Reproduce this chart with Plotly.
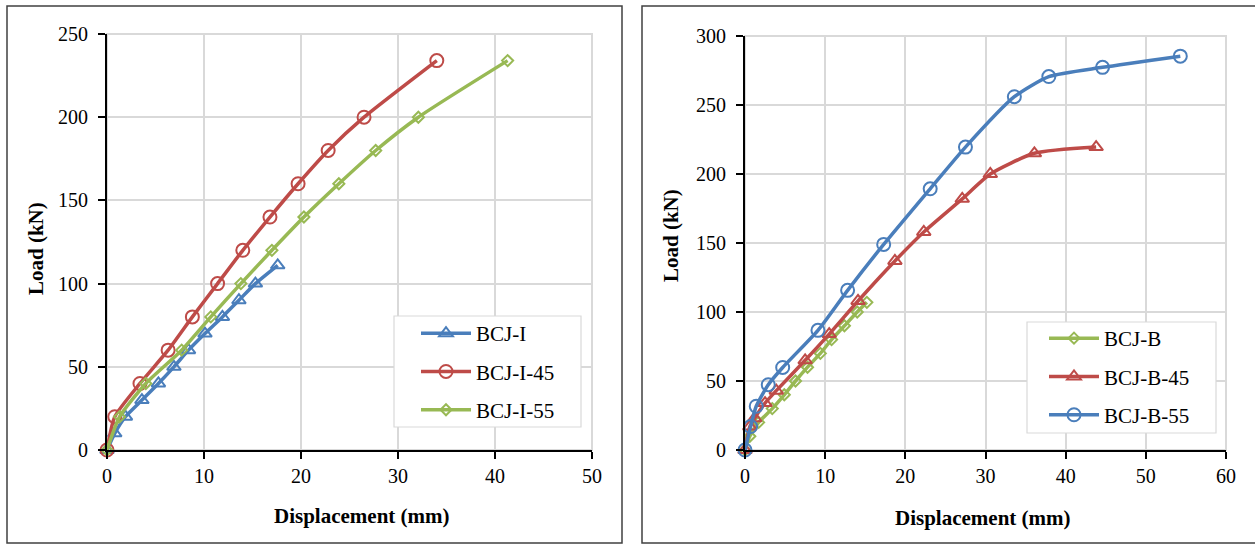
import plotly.graph_objects as go

# ---- data: load-displacement curves ----
# Panel (a): BCJ-I series
disp_bcj_i = [0, 0.8, 1.9, 3.6, 5.3, 6.9, 8.4, 10.1, 11.9, 13.6, 15.3, 17.6]
load_bcj_i = [0, 10, 20, 30, 40, 50, 60, 70, 80, 90, 100, 111]

disp_bcj_i45 = [0, 0.8, 3.4, 6.3, 8.8, 11.4, 14.0, 16.8, 19.7, 22.8, 26.5, 34.0]
load_bcj_i45 = [0, 20, 40, 60, 80, 100, 120, 140, 160, 180, 200, 234]

disp_bcj_i55 = [0, 1.3, 4.0, 7.7, 10.7, 13.8, 17.0, 20.3, 23.9, 27.7, 32.1, 41.3]
load_bcj_i55 = [0, 20, 40, 60, 80, 100, 120, 140, 160, 180, 200, 234]

# Panel (b): BCJ-B series
disp_bcj_b = [0, 0.6, 1.7, 3.4, 4.9, 6.3, 7.8, 9.4, 10.8, 12.4, 14.0, 15.2]
load_bcj_b = [0, 10, 20, 30, 40, 50, 60, 70, 80, 90, 100, 107]

disp_bcj_b45 = [0, 0.6, 1.2, 2.5, 3.9, 7.5, 10.5, 14.1, 18.7, 22.3, 27.1, 30.6, 36.1, 43.8]
load_bcj_b45 = [0, 17, 23, 34, 43, 65, 84, 108, 137, 158, 182, 200, 215, 219.5]

disp_bcj_b55 = [0, 0.7, 1.4, 2.9, 4.7, 9.1, 12.8, 17.3, 23.1, 27.5, 33.6, 37.9, 44.6, 54.3]
load_bcj_b55 = [0, 17, 31.7, 47.3, 59.8, 86.7, 115.7, 149, 189.3, 219.5, 256, 270.6, 277.3, 285.4]

x_title = "Displacement (mm)"
y_title = "Load (kN)"

# ---- styling ----
W, H = 1255, 544
FONT = "Liberation Serif, Times New Roman, serif"
BLUE, RED, GREEN = "#4a7ebb", "#be4b48", "#98b954"
GRID = "#d9d9d9"


def px(x):
    return x / W


def py(y):
    return 1 - y / H


def series(x, y, name, color, symbol, size, legend):
    return go.Scatter(
        x=x, y=y, name=name, mode="lines+markers",
        line=dict(color=color, width=3.5, shape="spline", smoothing=0.6),
        marker=dict(symbol=symbol, size=size, color=color,
                    line=dict(color=color, width=2)),
        cliponaxis=False, legend=legend, legendgroup=name,
    )


fig = go.Figure()

# left panel traces (axes x / y)
fig.add_trace(series(disp_bcj_i, load_bcj_i, "BCJ-I", BLUE, "triangle-up-open", 12, "legend"))
fig.add_trace(series(disp_bcj_i45, load_bcj_i45, "BCJ-I-45", RED, "circle-open", 13, "legend"))
fig.add_trace(series(disp_bcj_i55, load_bcj_i55, "BCJ-I-55", GREEN, "diamond-open", 8.5, "legend"))

# right panel traces (axes x2 / y2)
for tr in [
    series(disp_bcj_b, load_bcj_b, "BCJ-B", GREEN, "diamond-open", 8.5, "legend2"),
    series(disp_bcj_b45, load_bcj_b45, "BCJ-B-45", RED, "triangle-up-open", 12, "legend2"),
    series(disp_bcj_b55, load_bcj_b55, "BCJ-B-55", BLUE, "circle-open", 13, "legend2"),
]:
    tr.update(xaxis="x2", yaxis="y2")
    fig.add_trace(tr)

axis_common = dict(
    showline=True, linecolor="black", linewidth=2,
    ticks="outside", ticklen=7, tickwidth=1.5, tickcolor="black",
    showgrid=True, gridcolor=GRID, gridwidth=2, zeroline=False,
    tickfont=dict(family=FONT, size=20, color="black"),
    fixedrange=True, automargin=False,
)

legend_common = dict(
    bgcolor="rgba(0,0,0,0)", borderwidth=0,
    font=dict(family=FONT, size=21, color="black"),
    itemwidth=50, traceorder="grouped", tracegroupgap=8,
    xanchor="left", yanchor="top",
)

fig.update_layout(
    width=W, height=H,
    margin=dict(l=0, r=0, t=0, b=0, pad=0, autoexpand=False),
    paper_bgcolor="white", plot_bgcolor="white",
    showlegend=True,
    xaxis=dict(axis_common, domain=[px(107), px(592)], range=[0, 50], dtick=10, anchor="y"),
    yaxis=dict(axis_common, domain=[py(450), py(34)], range=[0, 250], dtick=50,
               anchor="x", ticklabelstandoff=6),
    xaxis2=dict(axis_common, domain=[px(745), px(1226)], range=[0, 60], dtick=10, anchor="y2"),
    yaxis2=dict(axis_common, domain=[py(450), py(36)], range=[0, 300], dtick=50,
                anchor="x2", ticklabelstandoff=6),
    legend=dict(legend_common, x=px(416), y=py(313)),
    legend2=dict(legend_common, x=px(1044), y=py(318)),
)

shapes = []
# panel frames
shapes.append(dict(type="rect", xref="paper", yref="paper",
                   x0=px(7), x1=px(622), y0=py(543), y1=py(6),
                   line=dict(color="#404040", width=1.5), layer="below"))
shapes.append(dict(type="rect", xref="paper", yref="paper",
                   x0=px(642), x1=px(1262), y0=py(543), y1=py(6),
                   line=dict(color="#404040", width=1.5), layer="below"))
# light plot-area outline (top / right edges)
for xr, yr in [("x domain", "y domain"), ("x2 domain", "y2 domain")]:
    shapes.append(dict(type="rect", xref=xr, yref=yr, x0=0, x1=1, y0=0, y1=1,
                       line=dict(color=GRID, width=2), layer="below"))
# legend boxes
shapes.append(dict(type="rect", xref="paper", yref="paper",
                   x0=px(394), x1=px(581), y0=py(427), y1=py(316),
                   fillcolor="white", line=dict(color=GRID, width=1.2), layer="above"))
shapes.append(dict(type="rect", xref="paper", yref="paper",
                   x0=px(1027), x1=px(1216), y0=py(433), y1=py(322),
                   fillcolor="white", line=dict(color=GRID, width=1.2), layer="above"))
fig.update_layout(shapes=shapes)

title_font = dict(family=FONT, size=21, color="black")
annotations = [
    dict(text="<b>%s</b>" % x_title, x=px(362), y=py(516)),
    dict(text="<b>%s</b>" % x_title, x=px(983), y=py(518)),
    dict(text="<b>%s</b>" % y_title, x=px(36), y=py(249), textangle=-90),
    dict(text="<b>%s</b>" % y_title, x=px(671), y=py(236), textangle=-90),
]
for a in annotations:
    a.update(xref="paper", yref="paper", showarrow=False, font=title_font,
             xanchor="center", yanchor="middle")
fig.update_layout(annotations=annotations)

fig.write_html("out.html")
